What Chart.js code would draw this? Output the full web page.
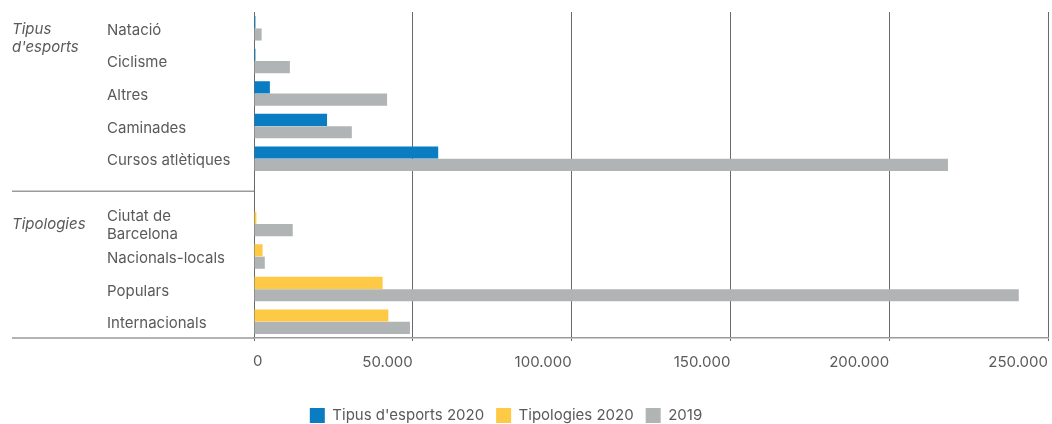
<!DOCTYPE html>
<html>
<head>
<meta charset="utf-8">
<script src="https://cdn.jsdelivr.net/npm/chart.js@4/dist/chart.umd.min.js"></script>
<style>
  html, body { margin: 0; padding: 0; background: #fff; }
  #wrap { width: 1052px; height: 424px; position: relative; }
</style>
</head>
<body>
<div id="wrap"><canvas id="chart"></canvas></div>
<script>
// categories (empty slot between the two groups)
const categories = ['Natació', 'Ciclisme', 'Altres', 'Caminades', 'Cursos atlètiques', '',
  ['Ciutat de', 'Barcelona'], 'Nacionals-locals', 'Populars', 'Internacionals']
// group labels, on the first row of each group
const groupLabels = [['', 'Tipus', "d'esports"], '', '', '', '', '', 'Tipologies', '', '', '']

const esports2020 = [450, 450, 5000, 23000, 58000, null, null, null, null, null]
const tipologies2020 = [null, null, null, null, null, null, 750, 2700, 40500, 42300]
const values2019 = [2400, 11300, 41900, 30800, 218500, null, 12200, 3400, 240800, 49100]

const separatorIndex = 5

const textColor = '#5a5a5a'
const fontFamily = 'Inter, "Open Sans", sans-serif'

function fmt(v) {
    return String(v).replace(/\B(?=(\d{3})+(?!\d))/g, '.')
}

// left separator lines + the "0" tick label (left aligned at the zero line)
const extras = {
    id: 'extras',
    afterLayout(chart) {
        // legend sits a bit left of the canvas centre in the original
        chart.legend.left -= 24
        chart.legend.right -= 24
    },
    afterDraw(chart) {
        const ctx = chart.ctx
        const area = chart.chartArea
        const y = chart.scales.y
        const x = chart.scales.x
        ctx.save()
        ctx.strokeStyle = '#9b9b9b'
        ctx.lineWidth = 1.5
        const sepY = y.getPixelForValue(separatorIndex)
        ctx.beginPath()
        ctx.moveTo(12, sepY)
        ctx.lineTo(area.left, sepY)
        ctx.moveTo(12, area.bottom)
        ctx.lineTo(area.left, area.bottom)
        ctx.stroke()

        ctx.fillStyle = textColor
        ctx.font = '15px ' + fontFamily
        ctx.textAlign = 'left'
        ctx.textBaseline = 'middle'
        ctx.fillText('0', x.getPixelForValue(0) - 1, area.bottom + 23)
        ctx.restore()
    }
}

const ctx = document.getElementById('chart').getContext('2d')
new Chart(ctx, {
    type: 'bar',
    data: {
        labels: categories,
        datasets: [
            { label: "Tipus d'esports 2020", data: esports2020, backgroundColor: '#0a7cc2' },
            { label: 'Tipologies 2020', data: tipologies2020, backgroundColor: '#fec945' },
            { label: '2019', data: values2019, backgroundColor: '#b1b4b4' }
        ]
    },
    options: {
        indexAxis: 'y',
        responsive: true,
        maintainAspectRatio: false,
        animation: false,
        skipNull: true,
        categoryPercentage: 0.76,
        barPercentage: 0.98,
        layout: { padding: { left: 12, right: 4, top: 12, bottom: -9 } },
        scales: {
            x: {
                min: 0,
                max: 250000,
                ticks: {
                    stepSize: 50000,
                    align: 'end',
                    padding: 12,
                    color: (c) => c.index === 0 ? 'rgba(0,0,0,0)' : textColor,
                    font: { family: fontFamily, size: 15 },
                    callback: (v) => fmt(v)
                },
                grid: { color: '#6a6a6a', lineWidth: 1, tickLength: 3, tickColor: '#6a6a6a' },
                border: { display: true, color: '#9b9b9b', width: 1.5 },
                afterFit(scale) {
                    scale.paddingRight = 0
                    scale.height += 13
                }
            },
            y: {
                ticks: {
                    crossAlign: 'far',
                    labelOffset: 2,
                    color: textColor,
                    font: { family: fontFamily, size: 15 },
                    autoSkip: false
                },
                grid: { display: false },
                border: { display: false },
                afterFit(scale) { scale.width = 147 }
            },
            group: {
                axis: 'y',
                type: 'category',
                position: 'left',
                weight: 1,
                labels: groupLabels,
                offset: true,
                ticks: {
                    crossAlign: 'far',
                    labelOffset: 1,
                    color: textColor,
                    font: { family: fontFamily, size: 15, style: 'italic' },
                    autoSkip: false
                },
                grid: { display: false },
                border: { display: false },
                afterFit(scale) { scale.width = 95 }
            }
        },
        plugins: {
            legend: {
                position: 'bottom',
                labels: {
                    boxWidth: 15,
                    boxHeight: 15,
                    padding: 12,
                    color: textColor,
                    font: { family: fontFamily, size: 15 }
                }
            },
            tooltip: { enabled: false }
        }
    },
    plugins: [extras]
})
</script>
</body>
</html>
